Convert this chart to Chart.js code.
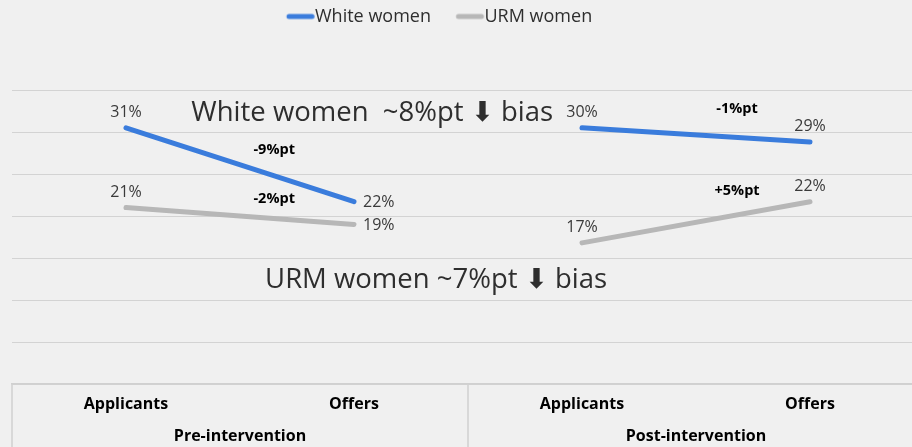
<!DOCTYPE html>
<html><head><meta charset="utf-8">
<script src="https://cdn.jsdelivr.net/npm/chart.js@4/dist/chart.umd.min.js"></script>
<style>
html,body{margin:0;padding:0;background:#f0f0f0;overflow:hidden;width:912px;height:447px;}
#wrap{width:924px;height:447px;}
canvas{display:block;}
</style></head><body>
<div id="wrap"><canvas id="c" width="924" height="447"></canvas></div>
<script>
// ---- data ----
const categories = ['Applicants', 'Offers', 'Applicants', 'Offers'];
const groups = ['Pre-intervention', 'Post-intervention'];
const seriesNames = ['White women', 'URM women'];
const whiteValues = [30.5, 21.7, 30.5, 28.8];
const urmValues = [21.0, 19.0, 16.8, 21.7];
const whiteLabels = ['31%', '22%', '30%', '29%'];
const urmLabels = ['21%', '19%', '17%', '22%'];
const whiteChange = ['-9%pt', '-1%pt'];
const urmChange = ['-2%pt', '+5%pt'];
const notes = ['White women  ~8%pt \u2B07 bias', 'URM women ~7%pt \u2B07 bias'];
const yMin = 0, yMax = 35, yStep = 5;

// ---- placement (layout only) ----
const changePlace = { x: [0.65, 0.68], white: [27.9, 32.7], urm: [22.0, 23.0] };
const notePlace = [{ x: 1.08, y: 32.2 }, { x: 1.36, y: 12.4 }];

const BLUE = '#3a7cdc', GRAY = '#b7b7b7';
const FONT = "'Open Sans', 'DejaVu Sans', sans-serif";
const LEG_FS = 18, LEG_PW = 34.5;

function legendLine(color) {
  const half = 28;
  const W = half * 2, H = 8;
  const c = document.createElement('canvas');
  c.width = W; c.height = H;
  const g = c.getContext('2d');
  const cx = LEG_PW / 2;
  const textStart = LEG_PW + LEG_FS / 2;
  const off = half - cx;
  g.strokeStyle = color; g.lineWidth = 5; g.lineCap = 'round';
  g.beginPath();
  g.moveTo(textStart - 26 + off, H / 2);
  g.lineTo(textStart - 3 + off, H / 2);
  g.stroke();
  return c;
}
const legendStyles = [legendLine(BLUE), legendLine(GRAY)];

const helper = {
  id: 'helper',
  beforeLayout(chart) {
    const lg = chart.legend;
    if (lg && !lg._patched) {
      const f = lg.fit;
      lg.fit = function () { f.call(this); if (this.options.display) this.height = 90; };
      lg._patched = true;
    }
  },
  afterLayout(chart) {
    const lg = chart.legend;
    if (!lg || !lg.lineWidths) return;
    const p = lg.options.labels.padding;
    const cur = (lg.left + p + lg.right - lg.lineWidths[0]) / 2;
    const want = 315 - (LEG_PW + LEG_FS / 2);
    const s = want - cur;
    lg.left += s; lg.right += s;
    lg.top = 16.5 - p - LEG_FS / 2;
  },
  afterDatasetsDraw(chart) {
    const ctx = chart.ctx;
    const xs = chart.scales.x, ys = chart.scales.y;
    ctx.save();
    // point value labels
    const sets = [whiteLabels, urmLabels];
    ctx.font = "16px " + FONT;
    ctx.fillStyle = '#3a3a3a';
    chart.data.datasets.forEach((ds, di) => {
      ds.data.forEach((v, i) => {
        const px = xs.getPixelForValue(i), py = ys.getPixelForValue(v);
        if (i === 1) {
          ctx.textAlign = 'left'; ctx.textBaseline = 'middle';
          ctx.fillText(sets[di][i], px + 9, py + 1);
        } else {
          ctx.textAlign = 'center'; ctx.textBaseline = 'alphabetic';
          ctx.fillText(sets[di][i], px, py - 11);
        }
      });
    });
    // change labels
    ctx.font = "bold 14.5px " + FONT;
    ctx.fillStyle = '#000';
    ctx.textAlign = 'center'; ctx.textBaseline = 'middle';
    for (let g = 0; g < 2; g++) {
      const x = xs.getPixelForValue(2 * g + changePlace.x[g]);
      ctx.fillText(whiteChange[g], x, ys.getPixelForValue(changePlace.white[g]));
      ctx.fillText(urmChange[g], x, ys.getPixelForValue(changePlace.urm[g]));
    }
    // big notes
    ctx.font = "27.5px " + FONT;
    ctx.fillStyle = '#2e2e2e';
    notes.forEach((t, k) => {
      ctx.fillText(t, xs.getPixelForValue(notePlace[k].x), ys.getPixelForValue(notePlace[k].y));
    });
    // table borders under the axis
    const area = chart.chartArea;
    const half = (xs.getPixelForValue(1) - xs.getPixelForValue(0)) / 2;
    ctx.strokeStyle = '#d0d0d0'; ctx.lineWidth = 1.5;
    [xs.getPixelForValue(0) - half, xs.getPixelForValue(1) + half, xs.getPixelForValue(3) + half].forEach(x => {
      ctx.beginPath(); ctx.moveTo(x, area.bottom); ctx.lineTo(x, chart.height); ctx.stroke();
    });
    ctx.restore();
  }
};

const hideGap = (color) => (c) => c.p0DataIndex === 1 ? 'rgba(0,0,0,0)' : color;

new Chart(document.getElementById('c'), {
  type: 'line',
  data: {
    labels: categories,
    datasets: [
      { label: seriesNames[0], data: whiteValues, borderColor: BLUE, backgroundColor: BLUE,
        borderWidth: 5, borderCapStyle: 'round', pointRadius: 0, pointHoverRadius: 0, tension: 0,
        segment: { borderColor: hideGap(BLUE) } },
      { label: seriesNames[1], data: urmValues, borderColor: GRAY, backgroundColor: GRAY,
        borderWidth: 5, borderCapStyle: 'round', pointRadius: 0, pointHoverRadius: 0, tension: 0,
        segment: { borderColor: hideGap(GRAY) } }
    ]
  },
  options: {
    responsive: false,
    animation: false,
    events: [],
    layout: { padding: { left: 12, right: 0, top: 0, bottom: 0 } },
    plugins: {
      tooltip: { enabled: false },
      legend: {
        display: true, position: 'top', align: 'center',
        labels: {
          usePointStyle: true, pointStyleWidth: LEG_PW, boxHeight: 8, padding: 10,
          color: '#2e2e2e', font: { family: FONT, size: LEG_FS },
          generateLabels(chart) {
            const items = Chart.defaults.plugins.legend.labels.generateLabels(chart);
            items.forEach((it, i) => { it.pointStyle = legendStyles[i]; });
            return items;
          }
        }
      }
    },
    scales: {
      x: {
        type: 'category', position: 'bottom', offset: true,
        grid: { display: false, drawTicks: false },
        border: { display: true, color: '#d0d0d0', width: 1.5 },
        ticks: { color: '#000', font: { family: FONT, size: 16, weight: 'bold' }, padding: 11, maxRotation: 0, autoSkip: false }
      },
      x2: {
        type: 'category', position: 'bottom', offset: true, labels: groups, weight: 1,
        grid: { display: false, drawTicks: false },
        border: { display: false },
        ticks: { color: '#000', font: { family: FONT, size: 16, weight: 'bold' }, padding: 1.3, maxRotation: 0 }
      },
      y: {
        min: yMin, max: yMax,
        grid: { color: '#d3d3d3', lineWidth: 1, drawTicks: false },
        border: { display: false },
        ticks: { display: false, stepSize: yStep }
      }
    }
  },
  plugins: [helper]
});
</script>
</body></html>
